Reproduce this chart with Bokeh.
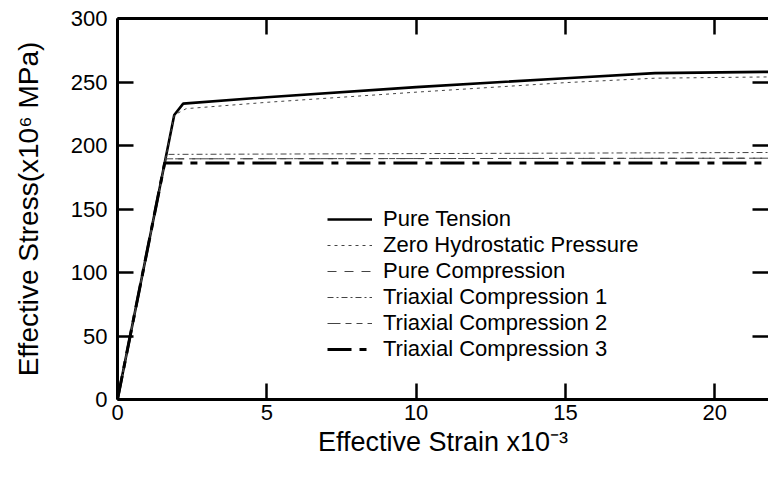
from bokeh.plotting import figure
from bokeh.models import (Range1d, LinearAxis, FixedTicker, CustomJSTickFormatter,
                          Legend, LegendItem)
from bokeh.embed import file_html
from bokeh.resources import INLINE

# ---- data ----
tension_strain = [0, 1.9, 2.2, 5, 10, 15, 18, 21.8]
tension_stress = [0, 224, 233, 238, 246, 253, 257, 258]

zero_hp_strain = [0, 1.9, 2.3, 5, 10, 15, 18, 21.8]
zero_hp_stress = [0, 224, 229, 234, 242, 249.5, 253, 254]

pure_comp_strain = [0, 1.61, 21.8]
pure_comp_stress = [0, 189.5, 190]

tri1_strain = [0, 1.64, 21.8]
tri1_stress = [0, 193, 194.5]

tri2_strain = [0, 1.61, 21.8]
tri2_stress = [0, 189.5, 190]

tri3_strain = [0, 1.58, 21.8]
tri3_stress = [0, 186.3, 186.3]

x_ticks = [0, 5, 10, 15, 20]
y_ticks = [0, 50, 100, 150, 200, 250, 300]

FONT = "Liberation Sans"

p = figure(width=768, height=479, output_backend="svg", toolbar_location=None,
           x_range=Range1d(0, 21.8), y_range=Range1d(0, 300),
           min_border_left=117, min_border_right=0, min_border_top=18,
           min_border_bottom=80, x_axis_location=None, y_axis_location=None)
p.grid.visible = False
p.outline_line_color = None
p.background_fill_color = "white"
p.border_fill_color = "white"


def style_axis(ax, ticks, labels=True):
    ax.ticker = FixedTicker(ticks=ticks)
    ax.minor_tick_line_color = None
    ax.major_tick_in = 16
    ax.major_tick_out = 0
    ax.major_tick_line_width = 2.5
    ax.major_tick_line_color = "black"
    ax.axis_line_width = 3
    ax.axis_line_color = "black"
    ax.major_label_text_font = FONT
    ax.major_label_text_color = "black"
    ax.axis_label_text_color = "black"
    if labels:
        ax.major_label_text_font_size = "22px"
    else:
        ax.formatter = CustomJSTickFormatter(code="return ''")
        ax.major_label_text_font_size = "1px"
        ax.major_label_standoff = 0


left = LinearAxis(axis_label="Effective Stress(x10\u2076 MPa)")
style_axis(left, y_ticks)
left.major_label_standoff = 10
left.axis_label_text_font = FONT
left.axis_label_text_font_size = "28px"
left.axis_label_text_font_style = "normal"
left.axis_label_standoff = 24
p.add_layout(left, "left")

below = LinearAxis(axis_label="Effective Strain x10\u207b\u00b3")
style_axis(below, x_ticks)
below.major_label_standoff = 5
below.axis_label_text_font = FONT
below.axis_label_text_font_size = "27px"
below.axis_label_text_font_style = "normal"
below.axis_label_standoff = 4
p.add_layout(below, "below")

above = LinearAxis()
style_axis(above, x_ticks, labels=False)
p.add_layout(above, "above")

right = LinearAxis()
style_axis(right, y_ticks, labels=False)
right.axis_line_alpha = 0
p.add_layout(right, "right")

r_t = p.line(tension_strain, tension_stress, line_color="black", line_width=2.6)
r_z = p.line(zero_hp_strain, zero_hp_stress, line_color="#444444", line_width=1,
             line_dash="3 4")
r_p = p.line(pure_comp_strain, pure_comp_stress, line_color="#444444", line_width=1,
             line_dash="9 8")
r_1 = p.line(tri1_strain, tri1_stress, line_color="#444444", line_width=1,
             line_dash="6 3 2 3")
r_2 = p.line(tri2_strain, tri2_stress, line_color="#444444", line_width=1,
             line_dash="13 5 6 5 6 5")
r_3 = p.line(tri3_strain, tri3_stress, line_color="black", line_width=3,
             line_dash="24 8 7 8")

legend = Legend(items=[
    LegendItem(label="Pure Tension", renderers=[r_t]),
    LegendItem(label="Zero Hydrostatic Pressure", renderers=[r_z]),
    LegendItem(label="Pure Compression", renderers=[r_p]),
    LegendItem(label="Triaxial Compression 1", renderers=[r_1]),
    LegendItem(label="Triaxial Compression 2", renderers=[r_2]),
    LegendItem(label="Triaxial Compression 3", renderers=[r_3]),
], location=(210, 37))
legend.label_text_font = FONT
legend.label_text_font_size = "22px"
legend.label_text_color = "black"
legend.glyph_width = 45
legend.glyph_height = 26
legend.label_height = 26
legend.label_standoff = 11
legend.spacing = 0
legend.padding = 0
legend.margin = 0
legend.border_line_alpha = 0
legend.background_fill_alpha = 0
p.add_layout(legend, "center")

open("out.html", "w").write(file_html(p, INLINE))
